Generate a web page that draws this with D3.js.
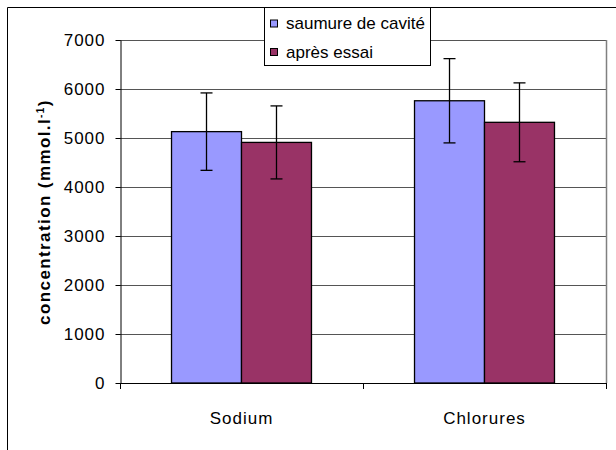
<!DOCTYPE html>
<html>
<head>
<meta charset="utf-8">
<script src="https://cdn.jsdelivr.net/npm/d3@7"></script>
<style>
  html, body { margin: 0; padding: 0; background: #fff; }
  svg { display: block; }
  text { font-family: "Liberation Sans", Arial, sans-serif; fill: #000; }
</style>
</head>
<body>
<svg id="chart" width="616" height="450"></svg>
<script>
// Ion concentrations in brine, before and after the test
const categories = ["Sodium", "Chlorures"];
const seriesNames = ["saumure de cavité", "après essai"];
const seriesColors = ["#9999ff", "#993366"];
const cavityBrine = [5130, 5760];
const afterTest = [4910, 5320];
const cavityBrineErr = [790, 860];
const afterTestErr = [745, 805];
const yTicks = [0, 1000, 2000, 3000, 4000, 5000, 6000, 7000];

const values = [cavityBrine, afterTest];
const errors = [cavityBrineErr, afterTestErr];

const svg = d3.select("#chart");
const plot = { left: 120, right: 606, top: 40, bottom: 383 };
const FONT = "Liberation Sans, Arial, sans-serif";

// Outer frame of the chart
svg.append("path")
  .attr("d", "M7.5,460 V7.5 H620")
  .attr("fill", "none").attr("stroke", "#000").attr("stroke-width", 1);

const x0 = d3.scaleBand().domain(categories)
  .range([plot.left, plot.right]).paddingInner(0.424).paddingOuter(0.212);
const x1 = d3.scaleBand().domain([0, 1]).range([0, x0.bandwidth()]);
const y = d3.scaleLinear().domain([0, 7000]).range([plot.bottom, plot.top]);

// Gridlines
svg.append("g").selectAll("line").data(yTicks.filter(t => t > 0)).join("line")
  .attr("x1", plot.left).attr("x2", plot.right)
  .attr("y1", d => Math.round(y(d)) + 0.5).attr("y2", d => Math.round(y(d)) + 0.5)
  .attr("stroke", "#555").attr("stroke-width", 1);

// Plot-area border on the right
svg.append("line")
  .attr("x1", plot.right + 0.5).attr("x2", plot.right + 0.5)
  .attr("y1", plot.top).attr("y2", plot.bottom)
  .attr("stroke", "#808080").attr("stroke-width", 1.5);

// Bars
const groups = svg.append("g").selectAll("g").data(categories).join("g")
  .attr("transform", d => `translate(${x0(d)},0)`);

groups.selectAll("rect").data((c, i) => values.map((s, k) => ({ k, v: s[i] }))).join("rect")
  .attr("x", d => x1(d.k))
  .attr("width", x1.bandwidth())
  .attr("y", d => y(d.v))
  .attr("height", d => y(0) - y(d.v))
  .attr("fill", d => seriesColors[d.k])
  .attr("stroke", "#000").attr("stroke-width", 1.3);

// Error bars
const errData = [];
categories.forEach((c, i) => values.forEach((s, k) => {
  errData.push({ cx: x0(c) + x1(k) + x1.bandwidth() / 2, v: s[i], e: errors[k][i] });
}));
const eb = svg.append("g").attr("stroke", "#000").attr("stroke-width", 1.3);
eb.selectAll("line.v").data(errData).join("line").attr("class", "v")
  .attr("x1", d => d.cx).attr("x2", d => d.cx)
  .attr("y1", d => y(d.v + d.e)).attr("y2", d => y(d.v - d.e));
eb.selectAll("line.t").data(errData).join("line").attr("class", "t")
  .attr("x1", d => d.cx - 6).attr("x2", d => d.cx + 6)
  .attr("y1", d => y(d.v + d.e)).attr("y2", d => y(d.v + d.e));
eb.selectAll("line.b").data(errData).join("line").attr("class", "b")
  .attr("x1", d => d.cx - 6).attr("x2", d => d.cx + 6)
  .attr("y1", d => y(d.v - d.e)).attr("y2", d => y(d.v - d.e));

// Y axis
const yAxis = svg.append("g").attr("transform", `translate(${plot.left + 0.5},0)`)
  .call(d3.axisLeft(y).tickValues(yTicks).tickFormat(d3.format("d"))
    .tickSize(5).tickPadding(10).tickSizeOuter(0));
yAxis.select(".domain").attr("stroke", "#000");
yAxis.selectAll("text")
  .style("font-size", "17px").style("font-family", FONT)
  .style("letter-spacing", "1px").attr("fill", "#000");

// X axis with ticks between categories
const xAxisG = svg.append("g");
xAxisG.append("line")
  .attr("x1", plot.left).attr("x2", plot.right + 1)
  .attr("y1", plot.bottom + 0.5).attr("y2", plot.bottom + 0.5)
  .attr("stroke", "#000");
const sepTicks = [plot.left, (x0(categories[0]) + x0.bandwidth() + x0(categories[1])) / 2, plot.right];
xAxisG.selectAll("line.tk").data(sepTicks).join("line").attr("class", "tk")
  .attr("x1", d => Math.round(d) + 0.5).attr("x2", d => Math.round(d) + 0.5)
  .attr("y1", plot.bottom).attr("y2", plot.bottom + 6)
  .attr("stroke", "#000");
xAxisG.selectAll("text").data(categories).join("text")
  .attr("x", d => x0(d) + x0.bandwidth() / 2)
  .attr("y", 424)
  .attr("text-anchor", "middle")
  .style("font-size", "17px")
  .style("letter-spacing", "1px")
  .text(d => d);

// Y axis title
const yt = svg.append("text")
  .attr("transform", "translate(50,212) rotate(-90)")
  .attr("text-anchor", "middle")
  .style("font-size", "17px").style("letter-spacing", "1.4px").attr("font-weight", "bold");
yt.append("tspan").text("concentration (mmol.l");
yt.append("tspan").attr("dy", -6).style("font-size", "10px").text("-1");
yt.append("tspan").attr("dy", 6).text(")");

// Legend
const lg = svg.append("g");
lg.append("rect").attr("x", 264.5).attr("y", 7.5).attr("width", 166).attr("height", 58)
  .attr("fill", "#fff").attr("stroke", "#000").attr("stroke-width", 1);
seriesNames.forEach((name, k) => {
  const cy = 23.5 + k * 28.5;
  lg.append("rect").attr("x", 270.5).attr("y", cy - 3.5).attr("width", 7).attr("height", 7)
    .attr("fill", seriesColors[k]).attr("stroke", "#000");
  lg.append("text").attr("x", 286).attr("y", cy + 5.5).style("font-size", "17px").text(name);
});
</script>
</body>
</html>
